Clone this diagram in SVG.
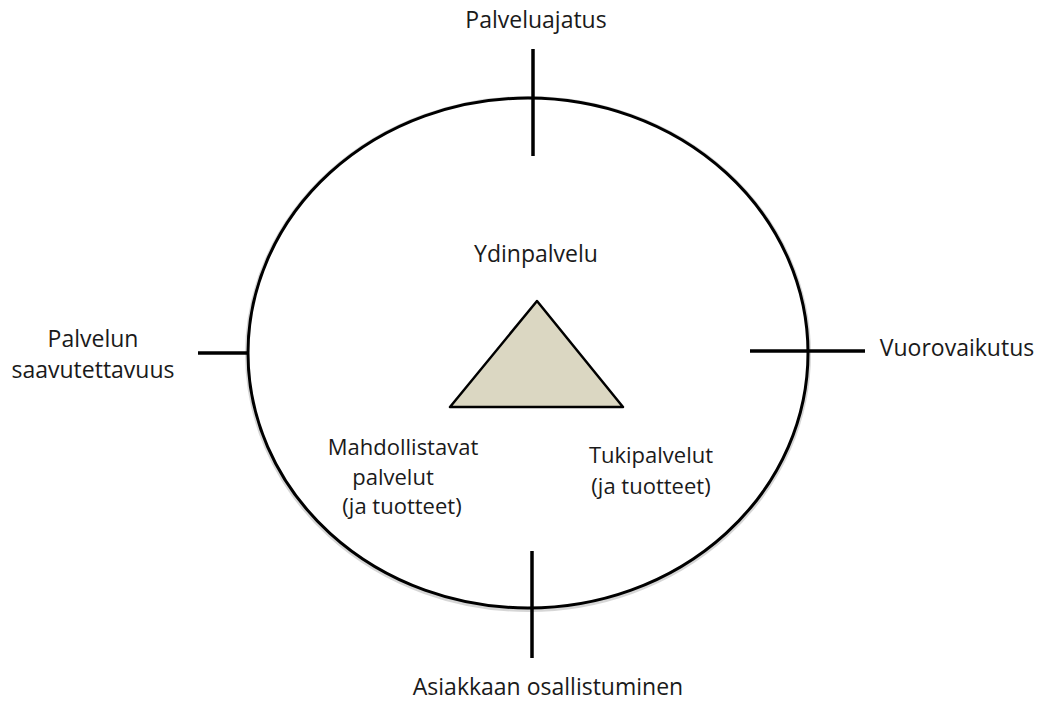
<svg xmlns="http://www.w3.org/2000/svg" width="1043" height="702" viewBox="0 0 1043 702">
<style>
text{font-family:"Open Sans","Liberation Sans",sans-serif;font-size:23px;fill:#1a1a1a;text-anchor:middle}
.in{font-size:22px}
.ax{stroke:#000;stroke-width:3.5;fill:none}
</style>
<rect width="1043" height="702" fill="#fff"/>
<g id="circle">
<ellipse cx="528" cy="354" rx="280" ry="255" fill="none" stroke="#bbb" stroke-width="6" opacity="0.6"/>
<ellipse cx="528" cy="353" rx="280" ry="255" fill="#fff" stroke="#000" stroke-width="3"/>
</g>
<g id="connectors">
<line class="ax" x1="533" y1="49" x2="533" y2="156"/>
<line class="ax" x1="532" y1="551" x2="532" y2="658"/>
<line class="ax" x1="198" y1="353" x2="249" y2="353"/>
<line class="ax" x1="750" y1="351" x2="865" y2="351"/>
</g>
<g id="triangle">
<polygon points="537,301 450,407 623,407" fill="#dbd7c2" stroke="#000" stroke-width="2.5" stroke-linejoin="round"/>
</g>
<g id="palveluajatus"><text x="536" y="28">Palveluajatus</text></g>
<g id="saavutettavuus"><text x="93" y="347">Palvelun</text><text x="93" y="378">saavutettavuus</text></g>
<g id="vuorovaikutus"><text x="957" y="356">Vuorovaikutus</text></g>
<g id="ydinpalvelu"><text x="536" y="262">Ydinpalvelu</text></g>
<g id="mahdollistavat"><text class="in" x="403" y="455">Mahdollistavat</text><text class="in" x="393" y="485">palvelut</text><text class="in" x="402" y="514">(ja tuotteet)</text></g>
<g id="tukipalvelut"><text class="in" x="651" y="463">Tukipalvelut</text><text class="in" x="651" y="494">(ja tuotteet)</text></g>
<g id="asiakkaan"><text x="548" y="695">Asiakkaan osallistuminen</text></g>
</svg>
